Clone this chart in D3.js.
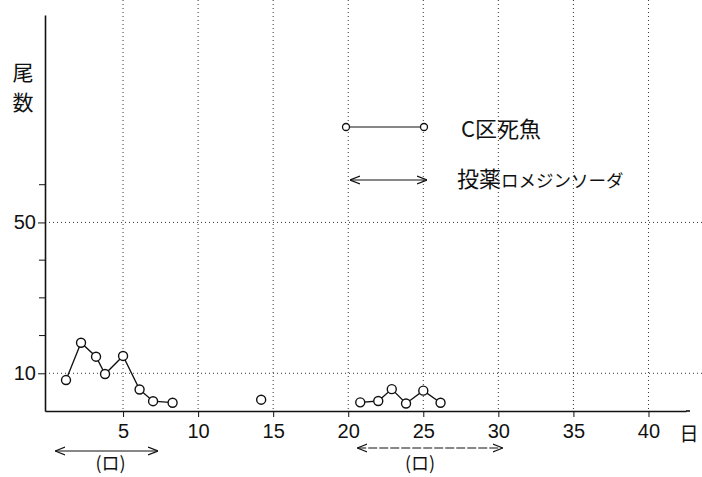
<!DOCTYPE html>
<html>
<head>
<meta charset="utf-8">
<script src="https://cdn.jsdelivr.net/npm/d3@7"></script>
<style>
body { margin: 0; background: #fff; }
text { font-family: "Liberation Sans", Arial, sans-serif; fill: #111; }
.jp { font-family: "Noto Sans CJK JP", sans-serif; }
.grid { stroke: #333; stroke-width: 1; stroke-dasharray: 1,3; }
</style>
</head>
<body>
<div class="chart"></div>
<script>
// C区 dead fish per day
const daysA = [1.2, 2.2, 3.2, 3.8, 5.0, 6.1, 7.0, 8.3]
const deadA = [8.2, 18.1, 14.4, 9.8, 14.6, 5.7, 2.6, 2.2]
const daysSingle = [14.2]
const deadSingle = [3.0]
const daysB = [20.8, 22.0, 22.9, 23.85, 25.0, 26.15]
const deadB = [2.3, 2.65, 5.8, 2.0, 5.4, 2.2]
// treatment periods (days)
const treatStart = [0.47, 20.6]
const treatEnd = [7.33, 30.3]
const treatLabel = ["(ロ)", "(ロ)"]

const xTicks = [5, 10, 15, 20, 25, 30, 35, 40]
const yTicks = [10, 50]
const yMinor = [20, 30, 40, 60]

const W = 702, H = 477

const svg = d3.select(".chart")
    .append("svg")
    .attr("width", W)
    .attr("height", H)

const x = d3.scaleLinear().domain([-0.2, 42.5]).range([45, 686])
const y = d3.scaleLinear().domain([0, 105]).range([411, 15])

const defs = svg.append("defs")
defs.append("marker")
    .attr("id", "head")
    .attr("viewBox", "0 0 10 10")
    .attr("refX", 10).attr("refY", 5)
    .attr("markerWidth", 10).attr("markerHeight", 10)
    .attr("markerUnits", "userSpaceOnUse")
    .attr("orient", "auto-start-reverse")
    .append("path")
    .attr("d", "M0,1 L10,5 L0,9")
    .attr("fill", "none")
    .attr("stroke", "#111")
    .attr("stroke-width", 1.2)

// grid
svg.append("g").selectAll("line")
    .data(xTicks)
    .join("line")
    .attr("class", "grid")
    .attr("x1", d => x(d)).attr("x2", d => x(d))
    .attr("y1", 0).attr("y2", y(0))

svg.append("g").selectAll("line")
    .data(yTicks)
    .join("line")
    .attr("class", "grid")
    .attr("x1", x(-0.2)).attr("x2", W)
    .attr("y1", d => y(d)).attr("y2", d => y(d))

// axes
const xAxis = d3.axisBottom(x).tickValues(xTicks).tickSize(6).tickSizeOuter(0)
const gx = svg.append("g")
    .attr("transform", `translate(0, ${y(0)})`)
    .call(xAxis)
gx.select(".domain").attr("stroke", "#111").attr("stroke-width", 1.6)
gx.selectAll(".tick line").attr("stroke", "#111")
gx.selectAll(".tick text")
    .attr("font-size", 20)
    .attr("font-family", "Liberation Sans, Arial, sans-serif")
    .attr("fill", "#111")
    .attr("dy", "0.9em")
gx.append("line")
    .attr("x1", x.range()[1]).attr("x2", 690)
    .attr("stroke", "#111").attr("stroke-width", 1.6)

const yAxis = d3.axisLeft(y).tickValues(yTicks).tickSize(7).tickSizeOuter(0)
const gy = svg.append("g")
    .attr("transform", `translate(${x(-0.2)}, 0)`)
    .call(yAxis)
gy.select(".domain").attr("stroke", "#111").attr("stroke-width", 1.6)
gy.selectAll(".tick line").attr("stroke", "#111")
gy.selectAll(".tick text")
    .attr("font-size", 20)
    .attr("font-family", "Liberation Sans, Arial, sans-serif")
    .attr("fill", "#111")
    .attr("x", -9)

svg.append("g").selectAll("line")
    .data(yMinor)
    .join("line")
    .attr("x1", x(-0.2) - 6).attr("x2", x(-0.2))
    .attr("y1", d => y(d)).attr("y2", d => y(d))
    .attr("stroke", "#111")

// axis labels
svg.append("text")
    .attr("class", "jp")
    .attr("x", 23).attr("y", 80)
    .attr("text-anchor", "middle")
    .attr("font-size", 21)
    .text("尾")
svg.append("text")
    .attr("class", "jp")
    .attr("x", 23).attr("y", 110)
    .attr("text-anchor", "middle")
    .attr("font-size", 21)
    .text("数")
svg.append("text")
    .attr("class", "jp")
    .attr("x", 689).attr("y", 441)
    .attr("text-anchor", "middle")
    .attr("font-size", 19)
    .text("日")

// series
const line = d3.line().x(d => x(d[0])).y(d => y(d[1]))
const serA = daysA.map((d, i) => [d, deadA[i]])
const serB = daysB.map((d, i) => [d, deadB[i]])
const serS = daysSingle.map((d, i) => [d, deadSingle[i]])

svg.selectAll(".series")
    .data([serA, serB])
    .join("path")
    .attr("class", "series")
    .attr("d", line)
    .attr("fill", "none")
    .attr("stroke", "#111")
    .attr("stroke-width", 1.3)

svg.append("g").selectAll("circle")
    .data(serA.concat(serS, serB))
    .join("circle")
    .attr("cx", d => x(d[0]))
    .attr("cy", d => y(d[1]))
    .attr("r", 4.5)
    .attr("fill", "#fff")
    .attr("stroke", "#111")
    .attr("stroke-width", 1.4)

// treatment arrows under the axis
const tr = svg.append("g").selectAll("g")
    .data(treatStart.map((d, i) => ({s: d, e: treatEnd[i], label: treatLabel[i], i: i})))
    .join("g")
tr.append("line")
    .attr("x1", d => x(d.s)).attr("x2", d => x(d.e))
    .attr("y1", d => d.i == 0 ? 451 : 448).attr("y2", d => d.i == 0 ? 451 : 448)
    .attr("stroke", "#111")
    .attr("stroke-width", 1.2)
    .attr("stroke-dasharray", d => d.i == 0 ? null : "9,2")
    .attr("marker-start", "url(#head)")
    .attr("marker-end", "url(#head)")
tr.append("text")
    .attr("class", "jp")
    .attr("x", d => (x(d.s) + x(d.e)) / 2 + (d.i == 0 ? 4 : -10))
    .attr("y", 470)
    .attr("text-anchor", "middle")
    .attr("font-size", 18)
    .text(d => d.label)

// legend
const lg = svg.append("g")
lg.append("line")
    .attr("x1", 346).attr("x2", 424)
    .attr("y1", 127).attr("y2", 127)
    .attr("stroke", "#111").attr("stroke-width", 1.2)
lg.selectAll("circle")
    .data([346, 424])
    .join("circle")
    .attr("cx", d => d).attr("cy", 127).attr("r", 3.5)
    .attr("fill", "#fff").attr("stroke", "#111").attr("stroke-width", 1.3)
lg.append("text")
    .attr("class", "jp")
    .attr("x", 461).attr("y", 137)
    .attr("font-size", 22)
    .text("C区死魚")
lg.append("line")
    .attr("x1", 350).attr("x2", 427)
    .attr("y1", 180).attr("y2", 180)
    .attr("stroke", "#111").attr("stroke-width", 1)
    .attr("marker-start", "url(#head)")
    .attr("marker-end", "url(#head)")
const t2 = lg.append("text")
    .attr("class", "jp")
    .attr("x", 457).attr("y", 187)
t2.append("tspan").attr("font-size", 22).text("投薬")
t2.append("tspan").attr("font-size", 17.5).text("ロメジンソーダ")
</script>
</body>
</html>
